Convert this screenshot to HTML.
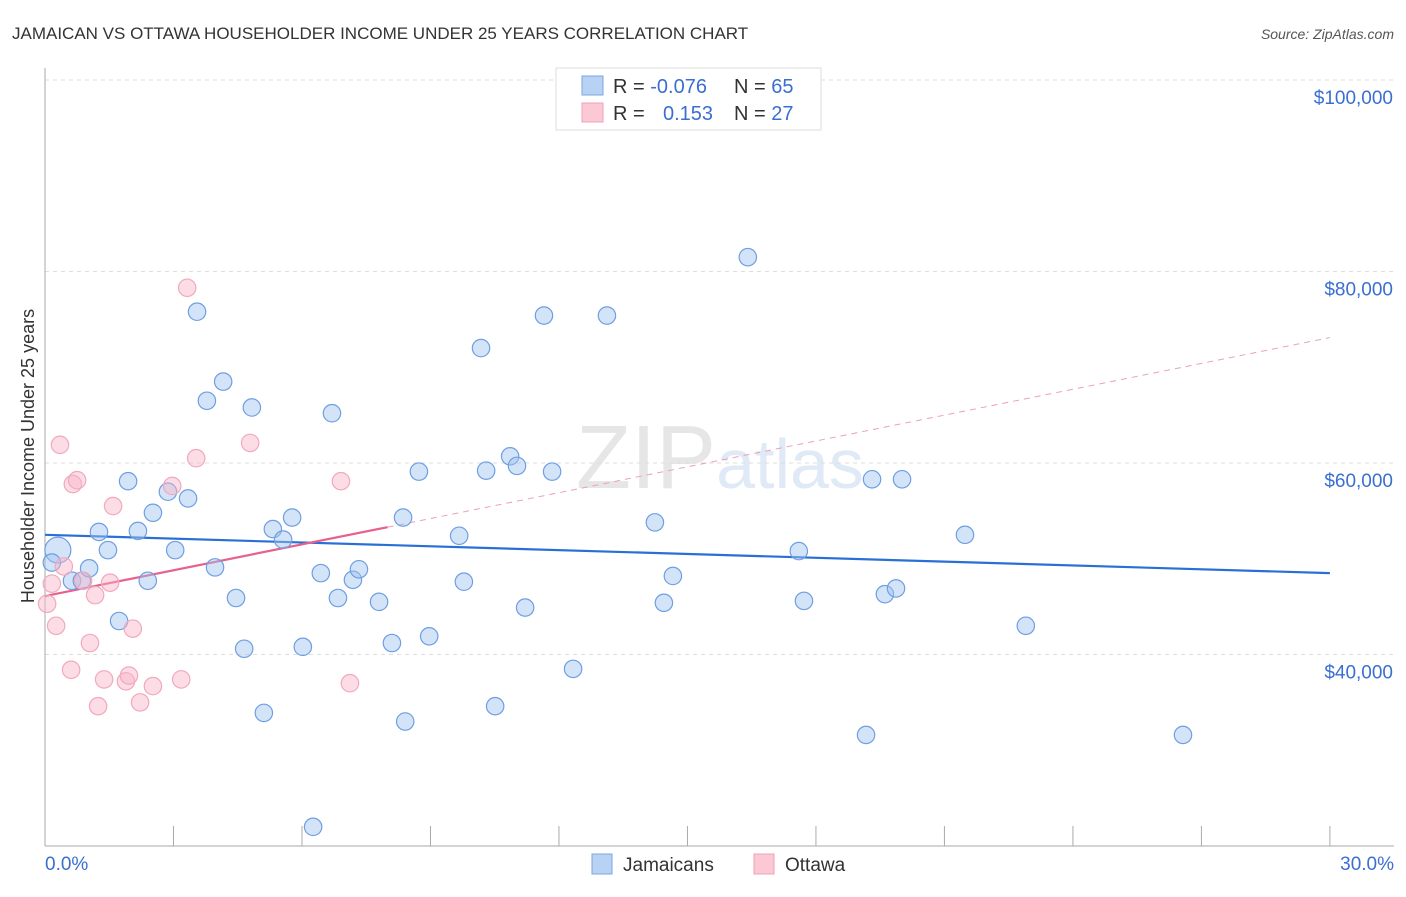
<!DOCTYPE html>
<html><head><meta charset="utf-8">
<style>
body{margin:0;background:#fff;font-family:"Liberation Sans",sans-serif;}
svg text{font-family:"Liberation Sans",sans-serif;}
</style></head>
<body>
<svg id="chart" width="1406" height="892" viewBox="0 0 1406 892" xmlns="http://www.w3.org/2000/svg">
<text x="12" y="39" font-size="17" fill="#333">JAMAICAN VS OTTAWA HOUSEHOLDER INCOME UNDER 25 YEARS CORRELATION CHART</text>
<text x="1394" y="39" font-size="14" fill="#555" text-anchor="end" font-style="italic">Source: ZipAtlas.com</text>
<text x="720" y="488" font-size="90" fill="#ebebeb" text-anchor="middle" font-family="Liberation Serif"><tspan fill="#e6e6e6">ZIP</tspan><tspan fill="#e0e9f6" font-family="Liberation Sans" font-size="70">atlas</tspan></text>
<g id="grid"></g>
<g id="axes"></g>
<g id="trends"></g>
<g id="points"></g>
<text transform="translate(34,456) rotate(-90)" font-size="18" fill="#333" text-anchor="middle">Householder Income Under 25 years</text>
<g>
<rect x="556" y="68" width="265" height="62" fill="#fff" stroke="#ddd"/>
<rect x="582" y="76" width="21" height="19" fill="#b8d2f4" stroke="#7aa6e4"/>
<rect x="582" y="103" width="21" height="19" fill="#fbc8d6" stroke="#f0a0b8"/>
<text x="613" y="93" font-size="20" fill="#333">R = <tspan fill="#3a6fd0">-0.076</tspan></text>
<text x="734" y="93" font-size="20" fill="#333">N = <tspan fill="#3a6fd0">65</tspan></text>
<text x="613" y="120" font-size="20" fill="#333">R = </text>
<text x="663" y="120" font-size="20" fill="#3a6fd0">0.153</text>
<text x="734" y="120" font-size="20" fill="#333">N = <tspan fill="#3a6fd0">27</tspan></text>
</g>
<g>
<rect x="592" y="854" width="20" height="20" fill="#b8d2f4" stroke="#7aa6e4"/>
<text x="623" y="871" font-size="19" fill="#333">Jamaicans</text>
<rect x="754" y="854" width="20" height="20" fill="#fbc8d6" stroke="#f0a0b8"/>
<text x="785" y="871" font-size="19" fill="#333">Ottawa</text>
</g>
</svg>
<script>
const blueX=[0.30,0.16,0.63,0.86,1.03,1.26,1.47,1.73,1.94,2.17,2.40,2.52,2.87,3.04,3.34,3.55,3.78,3.97,4.16,4.46,4.65,4.83,5.11,5.32,5.56,5.77,6.02,6.26,6.44,6.70,6.84,7.19,7.33,7.80,8.10,8.36,8.41,8.73,8.97,9.67,9.78,10.18,10.30,10.51,10.86,11.02,11.21,11.65,11.84,12.33,13.12,14.24,14.45,14.66,16.41,17.60,17.72,19.17,19.31,19.61,19.87,20.01,21.48,22.90,26.57];
const blueY=[50.9,49.6,47.7,47.7,49.0,52.8,50.9,43.5,58.1,52.9,47.7,54.8,57.0,50.9,56.3,75.8,66.5,49.1,68.5,45.9,40.6,65.8,33.9,53.1,52.0,54.3,40.8,22.0,48.5,65.2,45.9,47.8,48.9,45.5,41.2,54.3,33.0,59.1,41.9,52.4,47.6,72.0,59.2,34.6,60.7,59.7,44.9,75.4,59.1,38.5,75.4,53.8,45.4,48.2,81.5,50.8,45.6,31.6,58.3,46.3,46.9,58.3,52.5,43.0,31.6];
const pinkX=[0.05,0.16,0.26,0.35,0.44,0.61,0.65,0.75,0.89,1.05,1.17,1.24,1.38,1.52,1.59,1.89,1.96,2.05,2.22,2.52,2.97,3.18,3.32,3.53,4.79,6.91,7.12];
const pinkY=[45.3,47.4,43.0,61.9,49.2,38.4,57.8,58.2,47.7,41.2,46.2,34.6,37.4,47.5,55.5,37.2,37.8,42.7,35.0,36.7,57.6,37.4,78.3,60.5,62.1,58.1,37.0];
const blueTrend=[52.5,48.5];   // value at 0% and 30%
const pinkTrend=[46.1,73.1];   // value at 0% and 30%
const yTicks=[100,80,60,40];
const yTickLabels=["$100,000","$80,000","$60,000","$40,000"];
const xTickLabels=["0.0%","30.0%"];

const NS="http://www.w3.org/2000/svg";
const xs=v=>45+v*42.83;
const ys=v=>80+(100-v)*9.575;
function mk(tag,attrs,parent){const e=document.createElementNS(NS,tag);for(const k in attrs)e.setAttribute(k,attrs[k]);parent.appendChild(e);return e;}
const grid=document.getElementById('grid'),axes=document.getElementById('axes'),tr=document.getElementById('trends'),pts=document.getElementById('points');
yTicks.forEach((t,i)=>{
  const l=mk('line',{x1:45,x2:1394,y1:ys(t),y2:ys(t),stroke:'#ddd','stroke-dasharray':'4,4'},grid);
  
  
  const tx=mk('text',{x:1393,y:ys(t)+24,'font-size':19,fill:'#3a6fd0','text-anchor':'end'},axes);
  tx.textContent=yTickLabels[i];
  
  
});
const ya=mk('line',{x1:45,x2:45,y1:68,y2:846,stroke:'#aaa'},axes);


const xa=mk('line',{x1:45,x2:1394,y1:846,y2:846,stroke:'#aaa'},axes);


for(let i=0;i<=10;i++){
  const t=mk('line',{x1:xs(i*3),x2:xs(i*3),y1:826,y2:846,stroke:'#aaa'},axes);
  
  
}
const xl0=mk('text',{x:45,y:870,'font-size':19,fill:'#3a6fd0'},axes);xl0.textContent=xTickLabels[0];


const xl1=mk('text',{x:1394,y:870,'font-size':19,fill:'#3a6fd0','text-anchor':'end'},axes);xl1.textContent=xTickLabels[1];



blueX.forEach((x,i)=>{
  const c=mk('circle',{cx:xs(x),cy:ys(blueY[i]),r:i===0?13:8.7,fill:'rgba(160,195,240,0.45)',stroke:'#6e9fe2','stroke-width':1.2},pts);
  
  
});
pinkX.forEach((x,i)=>{
  const c=mk('circle',{cx:xs(x),cy:ys(pinkY[i]),r:8.7,fill:'rgba(248,180,200,0.45)',stroke:'#f2a8be','stroke-width':1.2},pts);
  
  
});
const bt=mk('line',{x1:xs(0),y1:ys(blueTrend[0]),x2:xs(30),y2:ys(blueTrend[1]),stroke:'#2a6fd6','stroke-width':2.2},tr);


const pAt=x=>pinkTrend[0]+(pinkTrend[1]-pinkTrend[0])*x/30;
const pt=mk('line',{x1:xs(0),y1:ys(pAt(0)),x2:xs(8),y2:ys(pAt(8)),stroke:'#e8608e','stroke-width':2.2},tr);


const pd=mk('line',{x1:xs(8),y1:ys(pAt(8)),x2:xs(30),y2:ys(pAt(30)),stroke:'#eca0b8','stroke-width':1,'stroke-dasharray':'6,5'},tr);


</script>
</body></html>
